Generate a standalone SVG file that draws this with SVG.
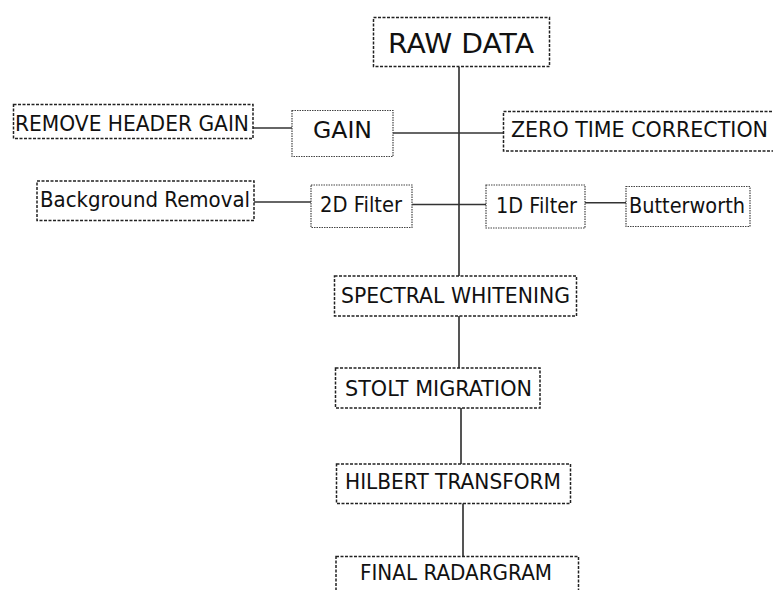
<svg xmlns="http://www.w3.org/2000/svg" width="773" height="590" viewBox="0 0 773 590">
<style>
  .box { fill: #fff; stroke: #222; stroke-width: 1.5; stroke-dasharray: 3 1.5; }
  .fine { fill: #fff; stroke: #444; stroke-width: 1.2; stroke-dasharray: 1.5 1; }
  .t { font-family: "DejaVu Sans", Verdana, sans-serif; font-size: 20.5px; fill: #111; }
  .conn line { stroke: #333; stroke-width: 1.6; }
  .conn line.g { stroke: #555; stroke-width: 2; }
</style>
<rect width="773" height="590" fill="#fff"/>
<g class="conn" id="connectors">
  <line class="g" x1="459" y1="67" x2="459" y2="276"/>
  <line x1="253" y1="128" x2="292" y2="128"/>
  <line x1="393" y1="133" x2="503" y2="133"/>
  <line x1="254" y1="202" x2="311" y2="202"/>
  <line x1="412" y1="204.5" x2="486" y2="204.5"/>
  <line x1="585" y1="202.7" x2="626" y2="202.7"/>
  <line class="g" x1="459" y1="316" x2="459" y2="368"/>
  <line class="g" x1="461" y1="408" x2="461" y2="464"/>
  <line class="g" x1="463" y1="503" x2="463" y2="556"/>
</g>
<g id="raw-data">
  <rect class="box" x="373.5" y="17.5" width="176" height="49"/>
  <text class="t" x="388" y="53" style="font-size:27px" textLength="146" lengthAdjust="spacingAndGlyphs">RAW DATA</text>
</g>
<g id="remove-header-gain">
  <rect class="box" x="13.5" y="104.5" width="239.5" height="34"/>
  <text class="t" x="15" y="131" textLength="234" lengthAdjust="spacingAndGlyphs">REMOVE HEADER GAIN</text>
</g>
<g id="gain">
  <rect class="fine" x="292" y="110.5" width="101" height="46"/>
  <text class="t" x="313" y="138" style="font-size:23px" textLength="59" lengthAdjust="spacingAndGlyphs">GAIN</text>
</g>
<g id="zero-time-correction">
  <rect class="box" x="503.5" y="111.5" width="280" height="39.5"/>
  <text class="t" x="511" y="137" textLength="257" lengthAdjust="spacingAndGlyphs">ZERO TIME CORRECTION</text>
</g>
<g id="background-removal">
  <rect class="box" x="37" y="181" width="217" height="39.5"/>
  <text class="t" x="40" y="207" textLength="210" lengthAdjust="spacingAndGlyphs">Background Removal</text>
</g>
<g id="filter-2d">
  <rect class="fine" x="311" y="185" width="101" height="42.5"/>
  <text class="t" x="320" y="212" textLength="82" lengthAdjust="spacingAndGlyphs">2D Filter</text>
</g>
<g id="filter-1d">
  <rect class="fine" x="486" y="185" width="99" height="43"/>
  <text class="t" x="496" y="213" textLength="81" lengthAdjust="spacingAndGlyphs">1D Filter</text>
</g>
<g id="butterworth">
  <rect class="fine" x="626" y="186.5" width="124" height="40"/>
  <text class="t" x="629" y="213" textLength="116" lengthAdjust="spacingAndGlyphs">Butterworth</text>
</g>
<g id="spectral-whitening">
  <rect class="box" x="334.5" y="276" width="242" height="40"/>
  <text class="t" x="341" y="302.5" textLength="229" lengthAdjust="spacingAndGlyphs">SPECTRAL WHITENING</text>
</g>
<g id="stolt-migration">
  <rect class="box" x="335.5" y="368" width="204.5" height="40"/>
  <text class="t" x="345" y="396" textLength="187" lengthAdjust="spacingAndGlyphs">STOLT MIGRATION</text>
</g>
<g id="hilbert-transform">
  <rect class="box" x="336.5" y="464" width="234" height="39.5"/>
  <text class="t" x="345" y="488.5" textLength="216" lengthAdjust="spacingAndGlyphs">HILBERT TRANSFORM</text>
</g>
<g id="final-radargram">
  <rect class="box" x="336" y="556.5" width="242.5" height="40"/>
  <text class="t" x="360" y="580" textLength="192" lengthAdjust="spacingAndGlyphs">FINAL RADARGRAM</text>
</g>
</svg>
